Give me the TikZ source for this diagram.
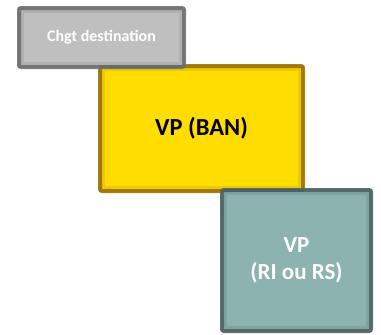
\documentclass[tikz,border=0pt]{standalone}
\usepackage{fontspec}
\setmainfont{Carlito}
\usetikzlibrary{shadows}
\definecolor{greyfill}{HTML}{BFBFBF}
\definecolor{greyline}{HTML}{7F7F7F}
\definecolor{banfill}{HTML}{FFDD00}
\definecolor{banline}{HTML}{AE820F}
\definecolor{rifill}{HTML}{8DB3B1}
\definecolor{riline}{HTML}{5D7373}
\tikzset{
  box/.style={rectangle, rounded corners=2pt, line width=4pt, align=center,
    drop shadow={shadow xshift=1pt, shadow yshift=-1pt, opacity=0.25}},
  chgt/.style={box, draw=greyline, fill=greyfill, text=white, font=\bfseries\fontsize{16}{19}\selectfont},
  ban/.style={box, draw=banline, fill=banfill, text=black, font=\bfseries\fontsize{24.5}{29}\selectfont},
  ri/.style={box, draw=riline, fill=rifill, text=white, font=\bfseries\fontsize{23}{27}\selectfont}
}
\begin{document}
\begin{tikzpicture}[x=1pt, y=-1pt]
  \useasboundingbox (0,0) rectangle (381,335);
  \node [ban, minimum width=203pt, minimum height=125pt] (ban) at (201.5,128.5) {VP (BAN)};
  \node [chgt, minimum width=165pt, minimum height=59pt] (chgt) at (101.5,37.5) {Chgt destination};
  \node [ri, minimum width=149pt, minimum height=141pt] (ri) at (296.5,260.5) {VP\\(RI ou RS)};
  % inner shade along the borders
  \foreach \n in {ban, chgt, ri} {
    \foreach \i in {2,4,6} {
      \draw [black, draw opacity=0.08, line width=2pt]
        ([shift={(\i pt,-\i pt)}]\n.north west) rectangle ([shift={(-\i pt,\i pt)}]\n.south east);
    }
  }
\end{tikzpicture}
\end{document}
